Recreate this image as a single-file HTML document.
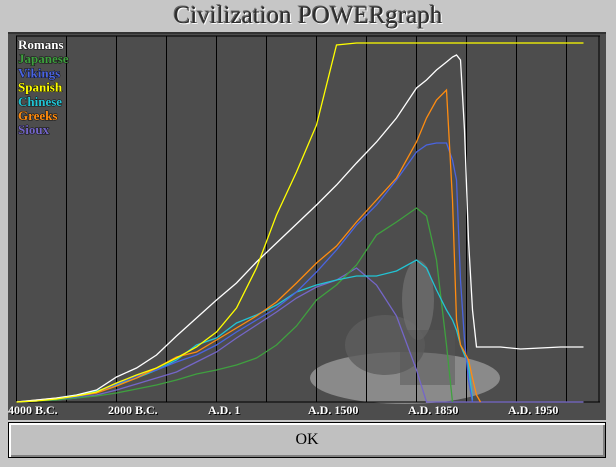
<!DOCTYPE html>
<html><head><meta charset="utf-8"><style>
html,body{margin:0;padding:0;width:616px;height:467px;overflow:hidden;background:#c4c4c4;}
#root{position:relative;width:616px;height:467px;background:#c6c6c6;}
#title{position:absolute;left:0;top:2px;width:616px;text-align:center;font-family:"Liberation Serif",serif;font-size:25px;color:#2e2e2e;text-shadow:1px 1px 0 #fff,-1px -1px 0 #666;}
#plot{position:absolute;left:8px;top:32px;width:598px;height:386px;background:#4d4d4d;border-top:2px solid #333;}
.lbl{position:absolute;top:403px;font-family:"Liberation Serif",serif;font-weight:bold;font-size:12px;color:#fff;text-shadow:1px 1px 0 #000;}
#ok{position:absolute;left:8px;top:422px;width:596px;height:34px;background:#c0c0c0;border:1px solid #000;box-shadow:inset 2px 2px 0 #fff,inset -2px -2px 0 #808080;font-family:"Liberation Serif",serif;font-size:16px;text-align:center;line-height:34px;color:#000;}
.leg{font-family:"Liberation Serif",serif;font-weight:bold;font-size:13px;}
</style></head><body>
<div id="root">
<div id="title">Civilization POWERgraph</div>
<div id="plot"></div>
<svg id="chart" width="616" height="467" style="position:absolute;left:0;top:0">
<g>
<ellipse cx="405" cy="378" rx="95" ry="26" fill="#8a8a8a"/>
<ellipse cx="385" cy="345" rx="40" ry="30" fill="#5e5e5e" opacity="0.8"/>
<ellipse cx="418" cy="300" rx="16" ry="40" fill="#6e6e6e" opacity="0.8"/>
<rect x="400" y="330" width="55" height="55" fill="#555" opacity="0.5"/>
</g>
<g id="grid"></g>
<g id="series"></g>
</svg>
<div class="lbl" style="left:8px">4000 B.C.</div>
<div class="lbl" style="left:108px">2000 B.C.</div>
<div class="lbl" style="left:208px">A.D. 1</div>
<div class="lbl" style="left:308px">A.D. 1500</div>
<div class="lbl" style="left:408px">A.D. 1850</div>
<div class="lbl" style="left:508px">A.D. 1950</div>
<div id="ok">OK</div>
</div>
<script>
const turns=[0,10,20,30,40,50,60,70,80,90,100,110,120,130,140,150,160,170,180,190,200,205,210,215,218,220,222,224,226,228,230,232,242,252,262,272,283.5];
const romans=[0,2,4,7,12,25,34,47,66,84,102,119,140,159,178,197,217,239,260,284,314,322,332,340,345,347,342,272,162,92,55,55,55,53,54,55,55];
const japanese=[0,1,2,4,6,9,13,17,22,28,32,37,44,57,76,102,117,137,167,180,194,186,142,57,0,null,null,null,null,null,null,null,null,null,null,null,null];
const vikings=[0,1,3,5,9,18,26,32,40,47,57,70,82,94,110,130,152,177,197,222,250,257,259,259,242,222,122,62,22,0,null,null,null,null,null,null,null];
const spanish=[0,1,3,6,10,19,27,34,44,55,70,94,134,187,230,277,357,359,359,359,359,359,359,359,359,359,359,359,359,359,359,359,359,359,359,359,359];
const chinese=[0,2,4,7,11,17,24,32,42,57,64,79,87,97,110,117,122,126,126,131,142,134,112,92,82,72,57,47,37,2,null,null,null,null,null,null,null];
const greeks=[0,2,4,6,9,16,24,34,45,50,62,74,86,100,119,139,156,180,202,224,260,284,302,312,202,82,57,50,42,24,7,0,null,null,null,null,null];
const sioux=[0,1,2,4,7,12,18,24,30,40,50,64,77,90,104,115,122,134,117,86,32,0,0,0,0,0,0,0,0,0,0,0,0,0,0,0,0];
const civNames=["Romans","Japanese","Vikings","Spanish","Chinese","Greeks","Sioux"];
const gridTurns=[0,25,50,75,100,125,150,175,200,225,250,275];
const NS="http://www.w3.org/2000/svg";
const xS=t=>16.5+t*2;
const yS=v=>402-v;
const grid=document.getElementById('grid');
gridTurns.forEach(t=>{const l=document.createElementNS(NS,'line');


l.setAttribute('x1',xS(t));l.setAttribute('x2',xS(t));l.setAttribute('y1',36);l.setAttribute('y2',402);l.setAttribute('stroke','#000');grid.appendChild(l);});
[[16,402,600,402],[599,36,599,402],[16,36,600,36]].forEach(c=>{const l=document.createElementNS(NS,'line');


l.setAttribute('x1',c[0]);l.setAttribute('y1',c[1]);l.setAttribute('x2',c[2]);l.setAttribute('y2',c[3]);l.setAttribute('stroke','#000');grid.appendChild(l);});
const data=[romans,japanese,vikings,spanish,chinese,greeks,sioux];
const colors=["#ffffff","#3fa03f","#4a64e0","#ffff00","#22c4d4","#ff8c10","#7466c8"];
const sg=document.getElementById('series');
[6,1,4,2,5,0,3].forEach(i=>{let d='';data[i].forEach((v,k)=>{if(v===null)return;d+=(d?'L':'M')+xS(turns[k])+' '+yS(v);});
const p=document.createElementNS(NS,'path');


p.setAttribute('d',d);p.setAttribute('fill','none');p.setAttribute('stroke',colors[i]);p.setAttribute('stroke-width','1.3');sg.appendChild(p);});
civNames.forEach((n,i)=>{const t=document.createElementNS(NS,'text');


t.setAttribute('x',18);t.setAttribute('y',49+i*14.2);t.setAttribute('class','leg');t.setAttribute('fill',colors[i]);
t.setAttribute('style','paint-order:stroke;stroke:#111;stroke-width:1px');t.textContent=n;sg.appendChild(t);});
</script>
</body></html>
